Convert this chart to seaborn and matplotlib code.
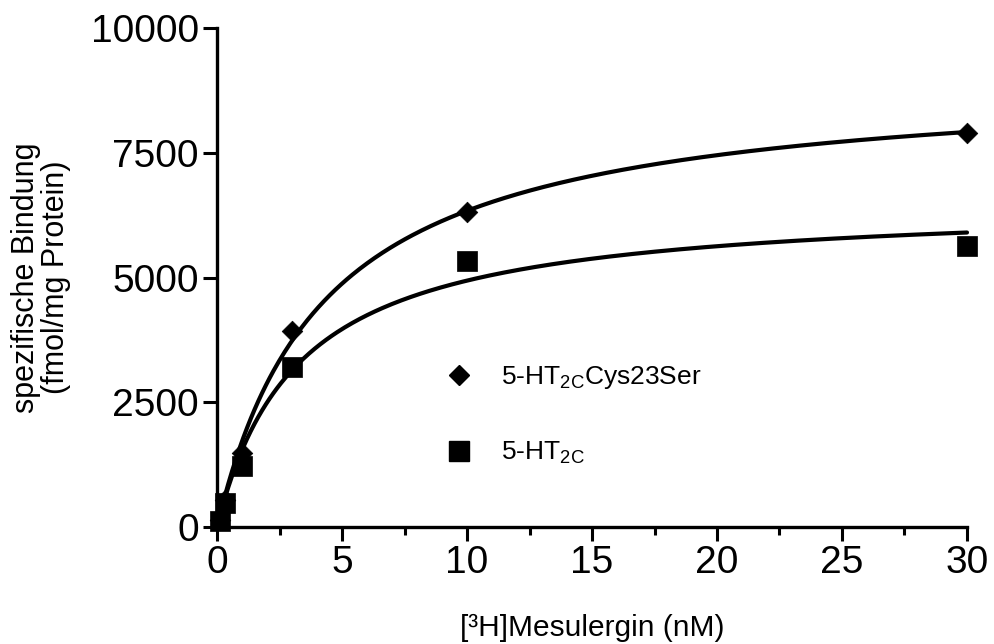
import numpy as np
import pandas as pd
import matplotlib
matplotlib.use("Agg")
import matplotlib.pyplot as plt
import seaborn as sns
from matplotlib.lines import Line2D
from matplotlib.ticker import MultipleLocator

# ---- data ----
conc = [0.1, 0.3, 1, 3, 10, 30]                     # [3H]Mesulergin (nM)
mutant = [150, 540, 1480, 3930, 6310, 7900]        # 5-HT2C Cys23Ser
wildtype = [120, 480, 1220, 3210, 5330, 5630]      # 5-HT2C
series_names = ["5-HT$_{\\mathrm{2C}}$Cys23Ser", "5-HT$_{\\mathrm{2C}}$"]
x_ticks = [0, 5, 10, 15, 20, 25, 30]
y_ticks = [0, 2500, 5000, 7500, 10000]


def fit_one_site(x, y):
    """Least-squares fit of y = Bmax*x/(Kd+x) (grid over Kd, closed-form Bmax)."""
    x = np.asarray(x, float)
    y = np.asarray(y, float)
    best = None
    for kd in np.linspace(0.2, 20, 4000):
        g = x / (kd + x)
        bmax = (g @ y) / (g @ g)
        sse = np.sum((y - bmax * g) ** 2)
        if best is None or sse < best[0]:
            best = (sse, bmax, kd)
    return best[1], best[2]


sns.set_theme(style="ticks")
plt.rcParams["font.family"] = ["Liberation Sans", "DejaVu Sans"]
plt.rcParams["mathtext.fontset"] = "custom"
plt.rcParams["mathtext.rm"] = "Liberation Sans"
plt.rcParams["mathtext.it"] = "Liberation Sans:italic"
plt.rcParams["mathtext.bf"] = "Liberation Sans:bold"
plt.rcParams["text.color"] = "black"
plt.rcParams["axes.labelcolor"] = "black"
plt.rcParams["xtick.color"] = "black"
plt.rcParams["ytick.color"] = "black"

fig = plt.figure(figsize=(9.94, 6.44), dpi=100)
ax = fig.add_axes([217 / 994, 1 - 527 / 644, 750 / 994, (527 - 28) / 644])

markers = ["D", "s"]
msizes = [10.5, 15]
for name, vals, mk, ms in zip(series_names, [mutant, wildtype], markers, msizes):
    bmax, kd = fit_one_site(conc, vals)
    xs = np.linspace(0, max(conc), 400)
    curve = pd.DataFrame({"x": xs, "y": bmax * xs / (kd + xs)})
    sns.lineplot(data=curve, x="x", y="y", ax=ax, color="black", lw=3.0,
                 clip_on=False)
    pts = pd.DataFrame({"x": conc, "y": vals})
    sns.scatterplot(data=pts, x="x", y="y", ax=ax, marker=mk, s=ms ** 2,
                    color="black", edgecolor="black", linewidth=0.5,
                    clip_on=False, zorder=5)

ax.set_xlim(0, 30)
ax.set_ylim(0, 10000)
ax.set_xticks(x_ticks)
ax.set_yticks(y_ticks)
ax.xaxis.set_minor_locator(MultipleLocator(2.5))
ax.tick_params(axis="both", which="major", length=10, width=2.2,
               labelsize=28, color="black", labelcolor="black", pad=3)
ax.tick_params(axis="x", which="minor", length=6, width=2.2, color="black")
for side in ["top", "right"]:
    ax.spines[side].set_visible(False)
for side in ["left", "bottom"]:
    ax.spines[side].set_linewidth(2.4)
    ax.spines[side].set_color("black")

ax.set_xlabel("[³H]Mesulergin (nM)", fontsize=21.5, labelpad=24)
ax.set_ylabel("spezifische Bindung\n(fmol/mg Protein)", fontsize=22,
              labelpad=14, linespacing=1.0)

handles = [Line2D([], [], linestyle="none", marker=mk, markersize=ms,
                  color="black") for mk, ms in zip(markers, msizes)]
leg = ax.legend(handles, series_names, loc="upper left",
                bbox_to_anchor=(0.273, 0.374), frameon=False, fontsize=19,
                handletextpad=1.1, labelspacing=1.85, handlelength=1.0)

fig.savefig("out.png", dpi=100)
